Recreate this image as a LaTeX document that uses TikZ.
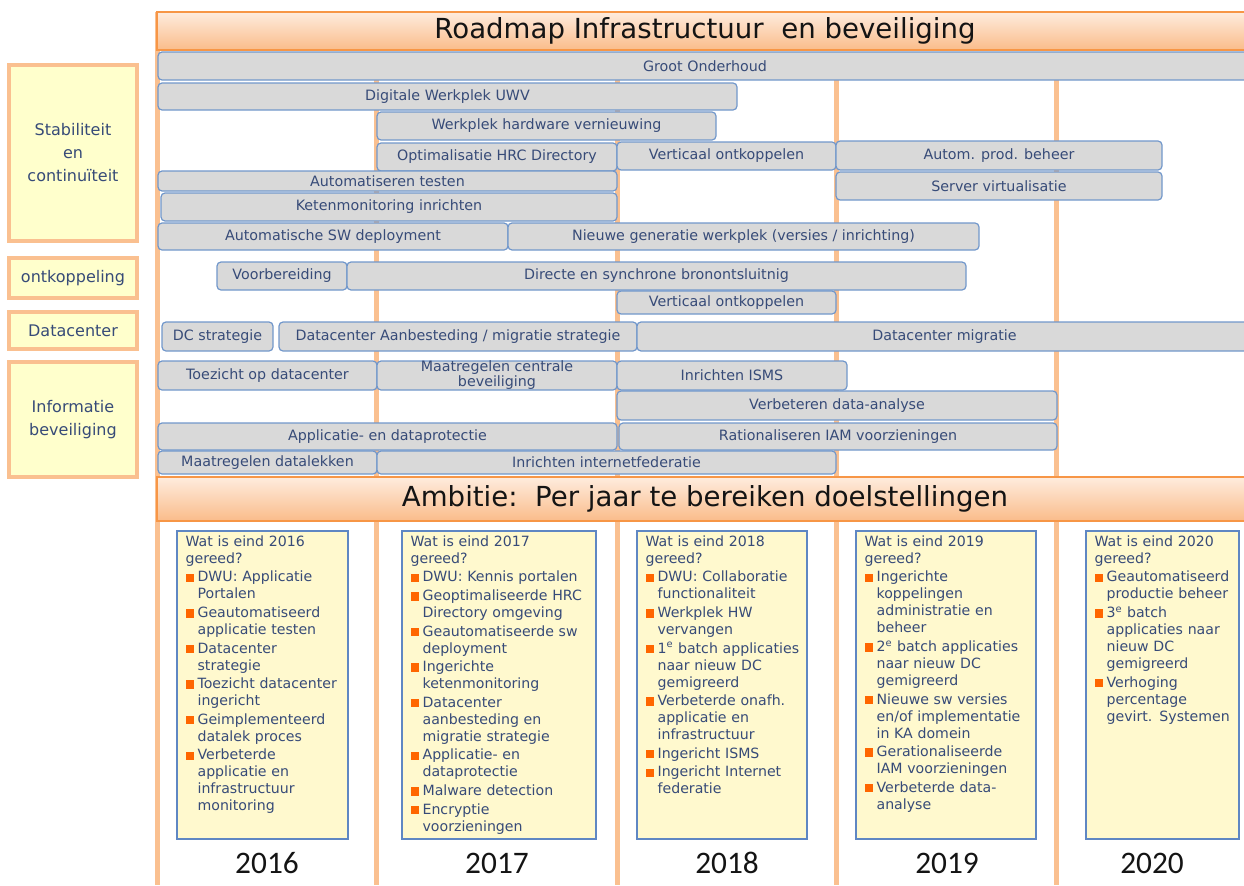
\documentclass[tikz,border=0pt]{standalone}
\usepackage{fontspec}
\setmainfont{DejaVu Sans}
\newfontfamily\jaarfont{Carlito}
\usetikzlibrary{positioning}

\definecolor{perzik}{RGB}{250,192,144}
\definecolor{kopboven}{RGB}{254,236,222}
\definecolor{koponder}{RGB}{250,188,138}
\definecolor{kopkader}{RGB}{247,150,70}
\definecolor{themageel}{RGB}{255,255,204}
\definecolor{balkgrijs}{RGB}{217,217,217}
\definecolor{balkblauw}{RGB}{113,151,203}
\definecolor{tekstblauw}{RGB}{55,75,120}
\definecolor{titelzwart}{RGB}{20,20,20}
\definecolor{vakgeel}{RGB}{255,249,206}
\definecolor{vakblauw}{RGB}{95,135,195}
\definecolor{oranje}{RGB}{255,102,0}

\setlength{\parindent}{0pt}
% one goal in a year box, orange square in front
\newcommand\doel[1]{\vspace{1.2pt}\hangindent=9pt\hangafter=1\noindent
    \makebox[9pt][l]{\textcolor{oranje}{\rule{6.2pt}{6.2pt}}}#1\par}

\begin{document}
\begin{tikzpicture}[x=0.75pt, y=-0.75pt,
    jaarlijn/.style={draw=perzik, line width=3.75pt},
    balk/.style={draw=balkblauw, fill=balkgrijs, line width=0.9pt, rounded corners=3pt,
        inner sep=0pt, text=tekstblauw, align=center, font=\fontsize{10.7}{11.2}\selectfont},
    kop/.style={draw=kopkader, line width=0.8pt, top color=kopboven, bottom color=koponder,
        inner sep=0pt, text=titelzwart, font=\fontsize{20.7}{24}\selectfont},
    thema/.style={draw=perzik, line width=3pt, fill=themageel, inner sep=0pt, text=tekstblauw,
        align=center, minimum width=96pt, font=\fontsize{12}{17.25}\selectfont},
    doelvak/.style={draw=vakblauw, line width=1pt, fill=vakgeel, inner sep=0pt},
    doeltekst/.style={text width=150pt, inner sep=0pt, text=tekstblauw,
        font=\fontsize{10.6}{12.75}\selectfont},
    jaar/.style={inner sep=0pt, text=titelzwart, font=\jaarfont\fontsize{23.5}{27}\selectfont}]
    \useasboundingbox (0,0) rectangle (1244,885);
    \clip (0,0) rectangle (1244,885);
    \def\balk#1#2#3#4#5#6{%
        \node[balk, minimum width={(#4-#2)*0.75pt}, minimum height={(#5-#3)*0.75pt}]
            (#1) at ({(#2+#4)/2},{(#3+#5)/2}) {#6};}

    % year columns
    \draw[jaarlijn] (157,12) -- (157,885);
    \foreach \x in {376.5,617,836,1056.5}
        \draw[jaarlijn] (\x,52) -- (\x,885);

    % themes on the left
    \node[thema, minimum height={176*0.75pt}] (stab) at (73,153) {Stabiliteit\\en\\continuïteit};
    \node[thema, minimum height={40*0.75pt}] (ontk) at (73,278) {ontkoppeling};
    \node[thema, minimum height={37*0.75pt}] (dc) at (73,330.5) {Datacenter};
    \node[thema, minimum height={115*0.75pt}] (info) at (73,419.5) {Informatie\\beveiliging};

    % roadmap bars
    \balk{groot}{158}{52}{1252}{80}{Groot Onderhoud}
    \balk{dwu}{158}{83}{737}{110}{Digitale Werkplek UWV}
    \balk{hw}{377}{112}{716}{140}{Werkplek hardware vernieuwing}
    \balk{hrc}{377}{143}{617}{171}{Optimalisatie HRC Directory}
    \balk{vert}{617}{142}{836}{170}{Verticaal ontkoppelen}
    \balk{apb}{836}{141}{1162}{170}{Autom. prod. beheer}
    \balk{test}{158}{171}{617}{191}{Automatiseren testen}
    \balk{srv}{836}{172}{1162}{200}{Server virtualisatie}
    \balk{keten}{161}{193}{617}{221}{Ketenmonitoring inrichten}
    \balk{swd}{158}{223}{508}{250}{Automatische SW deployment}
    \balk{nwp}{508}{223}{979}{250}{Nieuwe generatie werkplek (versies / inrichting)}
    \balk{voorb}{217}{262}{347}{290}{Voorbereiding}
    \balk{bron}{347}{262}{966}{290}{Directe en synchrone bronontsluitnig}
    \balk{vert2}{617}{291}{836}{314}{Verticaal ontkoppelen}
    \balk{dcs}{162}{322}{273}{351}{DC strategie}
    \balk{dca}{279}{322}{637}{351}{Datacenter Aanbesteding / migratie strategie}
    \balk{dcm}{637}{322}{1252}{351}{Datacenter migratie}
    \balk{toez}{158}{361}{377}{390}{Toezicht op datacenter}
    \balk{cbev}{377}{361}{617}{390}{Maatregelen centrale\\beveiliging}
    \balk{isms}{617}{361}{847}{390}{Inrichten ISMS}
    \balk{vda}{617}{391}{1057}{420}{Verbeteren data-analyse}
    \balk{adp}{158}{423}{617}{450}{Applicatie- en dataprotectie}
    \balk{iam}{619}{423}{1057}{450}{Rationaliseren IAM voorzieningen}
    \balk{dlek}{158}{451}{377}{474}{Maatregelen datalekken}
    \balk{ifed}{377}{451}{836}{474}{Inrichten internetfederatie}

    % headers
    \node[kop, minimum width={1096*0.75pt}, minimum height={38*0.75pt}] (titel) at (705,31)
        {Roadmap Infrastructuur\ \ en beveiliging};
    \node[kop, minimum width={1096*0.75pt}, minimum height={44*0.75pt}] (ambitie) at (705,499)
        {Ambitie:\ \ Per jaar te bereiken doelstellingen};

    % goals per year
    \foreach \n/\a/\b in {2016/177/348,2017/402/596,2018/637/807,2019/856/1036,2020/1086/1239}
        \node[doelvak, minimum width={(\b-\a)*0.75pt}, minimum height={308*0.75pt}]
            (d\n) at ({(\a+\b)/2},685) {};

    \node[doeltekst, below right=3.75pt and 6.75pt of d2016.north west] (t2016) {Wat is eind 2016\newline gereed?\par
        \doel{DWU: Applicatie\newline Portalen}
        \doel{Geautomatiseerd\newline applicatie testen}
        \doel{Datacenter\newline strategie}
        \doel{Toezicht datacenter\newline ingericht}
        \doel{Geimplementeerd\newline datalek proces}
        \doel{Verbeterde\newline applicatie en\newline infrastructuur\newline monitoring}};
    \node[doeltekst, below right=3.75pt and 6.75pt of d2017.north west] (t2017) {Wat is eind 2017\newline gereed?\par
        \doel{DWU: Kennis portalen}
        \doel{Geoptimaliseerde HRC\newline Directory omgeving}
        \doel{Geautomatiseerde sw\newline deployment}
        \doel{Ingerichte\newline ketenmonitoring}
        \doel{Datacenter\newline aanbesteding en\newline migratie strategie}
        \doel{Applicatie- en\newline dataprotectie}
        \doel{Malware detection}
        \doel{Encryptie\newline voorzieningen}};
    \node[doeltekst, below right=3.75pt and 6.75pt of d2018.north west] (t2018) {Wat is eind 2018\newline gereed?\par
        \doel{DWU: Collaboratie\newline functionaliteit}
        \doel{Werkplek HW\newline vervangen}
        \doel{1\textsuperscript{e} batch applicaties\newline naar nieuw DC\newline gemigreerd}
        \doel{Verbeterde onafh.\newline applicatie en\newline infrastructuur}
        \doel{Ingericht ISMS}
        \doel{Ingericht Internet\newline federatie}};
    \node[doeltekst, below right=3.75pt and 6.75pt of d2019.north west] (t2019) {Wat is eind 2019\newline gereed?\par
        \doel{Ingerichte\newline koppelingen\newline administratie en\newline beheer}
        \doel{2\textsuperscript{e} batch applicaties\newline naar nieuw DC\newline gemigreerd}
        \doel{Nieuwe sw versies\newline en/of implementatie\newline in KA domein}
        \doel{Gerationaliseerde\newline IAM voorzieningen}
        \doel{Verbeterde data-\newline analyse}};
    \node[doeltekst, below right=3.75pt and 6.75pt of d2020.north west] (t2020) {Wat is eind 2020\newline gereed?\par
        \doel{Geautomatiseerd\newline productie beheer}
        \doel{3\textsuperscript{e} batch\newline applicaties naar\newline nieuw DC\newline gemigreerd}
        \doel{Verhoging\newline percentage\newline gevirt. Systemen}};

    % years
    \foreach \j/\x in {2016/267,2017/497,2018/727,2019/947,2020/1152}
        \node[jaar] (j\j) at (\x,863) {\j};
\end{tikzpicture}
\end{document}
